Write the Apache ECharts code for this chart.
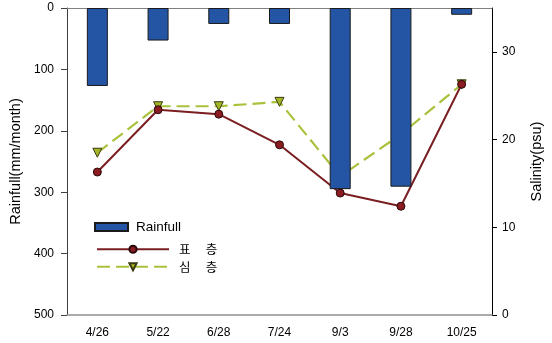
<!DOCTYPE html>
<html>
<head>
<meta charset="utf-8">
<script src="https://cdn.jsdelivr.net/npm/echarts@6/dist/echarts.min.js"></script>
<style>html,body{margin:0;padding:0;background:#fff;}#c{width:552px;height:343px;}</style>
</head>
<body>
<div id="c"></div>
<script>
var categories = ['4/26', '5/22', '6/28', '7/24', '9/3', '9/28', '10/25'];
var rainfall = [127, 53, 26, 26, 295, 291, 11];
var surfaceSalinity = [16.3, 23.4, 22.9, 19.4, 13.9, 12.4, 26.3];
var deepSalinity = [18.5, 23.8, 23.8, 24.3, 15.8, 20.6, 26.3];
var rainTicks = [0, 100, 200, 300, 400, 500];
var salTicks = [0, 10, 20, 30];
var names = ['Rainfull', '표\u3000 층', '심\u3000 층'];

var chart = echarts.init(document.getElementById('c'));
var font = 'Liberation Sans, Arial, sans-serif';
chart.setOption({
  animation: false,
  grid: { left: 67, right: 59, top: 8, bottom: 28 },
  legend: [
    {
      data: [{ name: names[0], icon: 'rect' }], left: 89, top: 215, itemWidth: 33, itemHeight: 8, itemGap: 4,
      textStyle: { fontFamily: font, fontSize: 13.5, color: '#000', padding: [0, 0, 0, 3] }
    },
    {
      data: [names[1], names[2]], left: 91, top: 238, itemWidth: 72, itemHeight: 9, itemGap: 5, orient: 'vertical',
      textStyle: { fontFamily: 'Noto Sans CJK KR, sans-serif', fontSize: 12.5, color: '#000', padding: [0, 0, 0, 5] }
    }
  ],
  xAxis: [
    {
      type: 'category', data: categories, boundaryGap: true,
      axisLine: { lineStyle: { color: '#808080', width: 1 } },
      axisTick: { alignWithLabel: true, length: 4, lineStyle: { color: '#555' } },
      axisLabel: { fontFamily: font, fontSize: 12, color: '#000', margin: 12 }
    },
    {
      type: 'category', data: categories, position: 'top', z: 20,
      axisLine: { lineStyle: { color: '#909090', width: 1.5 } },
      axisTick: { show: false }, axisLabel: { show: false }
    }
  ],
  yAxis: [
    {
      type: 'value', inverse: true, min: 0, max: 500, interval: 100, position: 'left',
      name: 'Rainfull(mm/month)', nameLocation: 'middle', nameGap: 42, nameRotate: 90,
      nameTextStyle: { fontFamily: font, fontSize: 14.5, color: '#000' },
      axisLine: { show: true, lineStyle: { color: '#404040', width: 1 } },
      axisTick: { show: true, length: 6, lineStyle: { color: '#404040' } },
      axisLabel: { fontFamily: font, fontSize: 12, color: '#000', margin: 13,
        customValues: rainTicks },
      splitLine: { show: false }
    },
    {
      type: 'value', min: 0, max: 35, position: 'right',
      name: 'Salinity(psu)', nameLocation: 'middle', nameGap: 37, nameRotate: 90,
      nameTextStyle: { fontFamily: font, fontSize: 14.5, color: '#000' },
      axisLine: { show: true, lineStyle: { color: '#000', width: 1 } },
      axisTick: { show: true, length: 5, lineStyle: { color: '#000' }, customValues: salTicks },
      axisLabel: { fontFamily: font, fontSize: 12, color: '#000', margin: 10, customValues: salTicks },
      splitLine: { show: false }
    }
  ],
  series: [
    {
      name: names[1], type: 'line', yAxisIndex: 1, data: surfaceSalinity, z: 2,
      symbol: 'circle', symbolSize: 8,
      lineStyle: { color: '#7A1E22', width: 2 },
      itemStyle: { color: '#8A1C22', borderColor: '#2a0808', borderWidth: 1 }
    },
    {
      name: names[2], type: 'line', yAxisIndex: 1, data: deepSalinity, z: 1,
      symbol: 'triangle', symbolRotate: 180, symbolSize: 9,
      lineStyle: { color: '#A9C23C', width: 2.2, type: [13, 6] },
      itemStyle: { color: '#A3B526', borderColor: '#3a3a10', borderWidth: 1 }
    },
    {
      name: names[0], type: 'bar', yAxisIndex: 0, data: rainfall, z: 5,
      barWidth: 21,
      itemStyle: { color: '#2455A4', borderColor: '#1a1a1a', borderWidth: 1 }
    }
  ]
});
</script>
</body>
</html>
